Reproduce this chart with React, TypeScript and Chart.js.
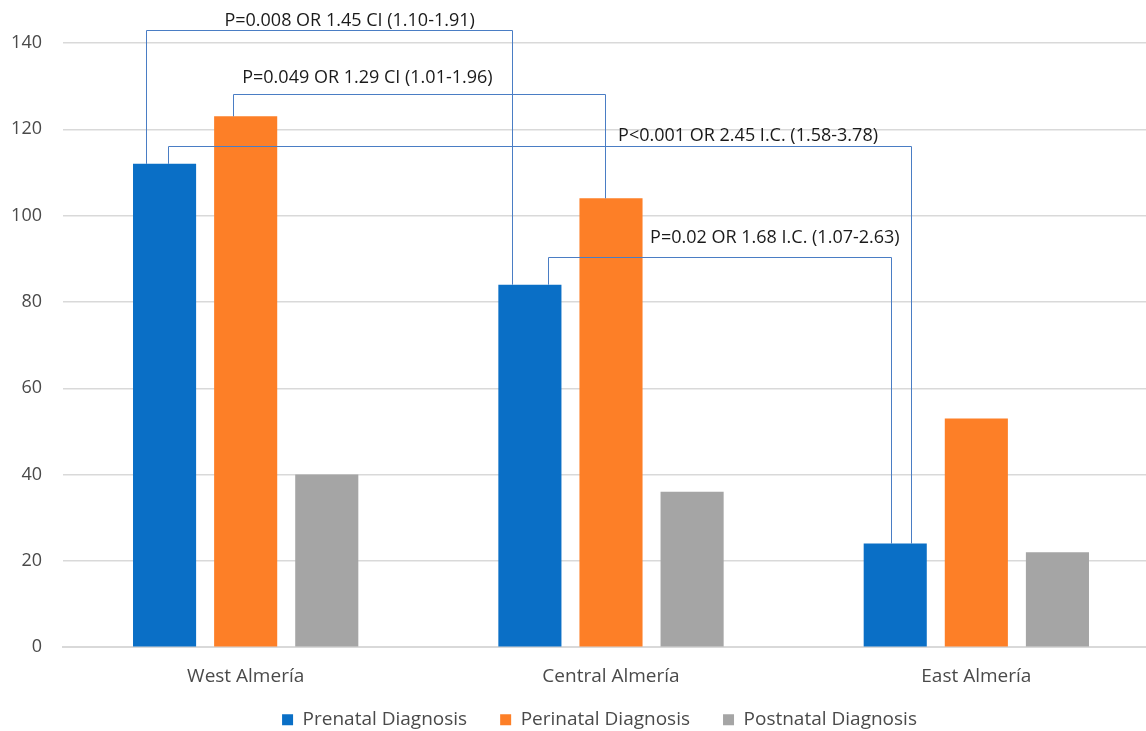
import React, { useEffect, useRef } from "react";
import { Chart, registerables } from "chart.js";

Chart.register(...registerables);

const categories = ["West Almería", "Central Almería", "East Almería"];
const seriesNames = ["Prenatal Diagnosis", "Perinatal Diagnosis", "Postnatal Diagnosis"];
const prenatal = [112, 84, 24];
const perinatal = [123, 104, 53];
const postnatal = [40, 36, 22];
const yTicks = [0, 20, 40, 60, 80, 100, 120, 140];

// Significance brackets: bar endpoints (dataset, category), bracket level and label level in data units
const bracketLabels = [
  "P=0.008 OR 1.45 CI (1.10-1.91)",
  "P=0.049 OR 1.29 CI (1.01-1.96)",
  "P<0.001 OR 2.45 I.C. (1.58-3.78)",
  "P=0.02 OR 1.68 I.C. (1.07-2.63)",
];
const bracketFrom = [[0, 0], [1, 0], [0, 0], [0, 1]];
const bracketTo = [[0, 1], [1, 1], [0, 2], [0, 2]];
const bracketLevels = [143.0, 128.2, 116.2, 90.5];
const bracketLabelLevels = [145.1, 131.9, 118.5, 94.9];

const COLORS = ["#0A6FC6", "#FD7F27", "#A5A5A5"];
const LINE_COLOR = "#4A7DC4";
// style offsets (fraction of bar width) for bracket ends, and label anchor fraction
const fromDx = [-0.29, -0.2, 0.06, 0.29];
const toDx = [-0.29, -0.09, 0.25, -0.06];
const labelAt = [0.555, 0.36, 0.78, 0.66];

const bracketPlugin = {
  id: "brackets",
  afterDatasetsDraw(chart: any) {
    const ctx = chart.ctx;
    const y = chart.scales.y;
    ctx.save();
    ctx.strokeStyle = LINE_COLOR;
    ctx.lineWidth = 1;
    ctx.font = "18px 'Open Sans', sans-serif";
    ctx.fillStyle = "#1a1a1a";
    ctx.textAlign = "center";
    ctx.textBaseline = "middle";
    bracketLabels.forEach((label, i) => {
      const [fds, fc] = bracketFrom[i];
      const [tds, tc] = bracketTo[i];
      const fb = chart.getDatasetMeta(fds).data[fc] as any;
      const tb = chart.getDatasetMeta(tds).data[tc] as any;
      const x1 = Math.round(fb.x + fromDx[i] * fb.width) + 0.5;
      const x2 = Math.round(tb.x + toDx[i] * tb.width) + 0.5;
      const ly = Math.round(y.getPixelForValue(bracketLevels[i])) + 0.5;
      ctx.beginPath();
      ctx.moveTo(x1, fb.y);
      ctx.lineTo(x1, ly);
      ctx.lineTo(x2, ly);
      ctx.lineTo(x2, tb.y);
      ctx.stroke();
      const tx = x1 + (x2 - x1) * labelAt[i];
      const ty = y.getPixelForValue(bracketLabelLevels[i]);
      ctx.fillText(label, tx, ty);
    });
    ctx.restore();
  },
};

// moves the legend box so it sits a fixed gap below the x axis line
const legendShift = {
  id: "legendShift",
  afterLayout(chart: any) {
    const lg = chart.legend;
    if (!lg) return;
    const dy = chart.scales.x.top + 30 - lg.top;
    lg.top += dy;
    lg.bottom += dy;
    lg.left += 40;
    lg.right += 0;
  },
};

export default function App() {
  const ref = useRef<HTMLCanvasElement>(null);
  useEffect(() => {
    document.documentElement.style.overflow = "hidden";
    document.body.style.overflow = "hidden";
    document.body.style.margin = "0";
    const values = [prenatal, perinatal, postnatal];
    Chart.defaults.font.family = "'Open Sans', sans-serif";
    const chart = new Chart(ref.current as HTMLCanvasElement, {
      type: "bar",
      data: {
        labels: categories,
        datasets: seriesNames.map((name, i) => ({
          label: name,
          data: values[i],
          backgroundColor: COLORS[i],
          borderWidth: 0,
          barPercentage: 0.778,
          categoryPercentage: 0.666,
        })),
      },
      options: {
        responsive: false,
        animation: false,
        layout: { padding: { top: 43, right: 1, bottom: -37, left: 0 } },
        plugins: {
          legend: {
            position: "bottom",
            labels: {
              boxWidth: 11,
              boxHeight: 11,
              padding: 33,
              color: "#4a4a4a",
              font: { size: 19 },
            },
          },
          tooltip: { enabled: false },
        },
        scales: {
          x: {
            grid: { display: false, drawTicks: false },
            border: { display: true, color: "#D9D9D9", width: 2 },
            ticks: { color: "#4a4a4a", font: { size: 19 }, padding: 18 },
          },
          y: {
            min: 0,
            max: 140,
            afterFit(axis: any) {
              axis.width = 63;
            },
            afterBuildTicks(axis: any) {
              axis.ticks = yTicks.map((v) => ({ value: v }));
            },
            grid: { color: "#D9D9D9", lineWidth: 1.5, drawTicks: false },
            border: { display: false },
            ticks: { color: "#4a4a4a", font: { size: 18 }, padding: 21 },
          },
        },
      },
      plugins: [bracketPlugin, legendShift],
    });
    return () => chart.destroy();
  }, []);
  return (
    <div style={{ position: "fixed", left: 0, top: 0, width: 1160, height: 731, background: "#fff" }}>
      <canvas ref={ref} width={1160} height={731} />
    </div>
  );
}
